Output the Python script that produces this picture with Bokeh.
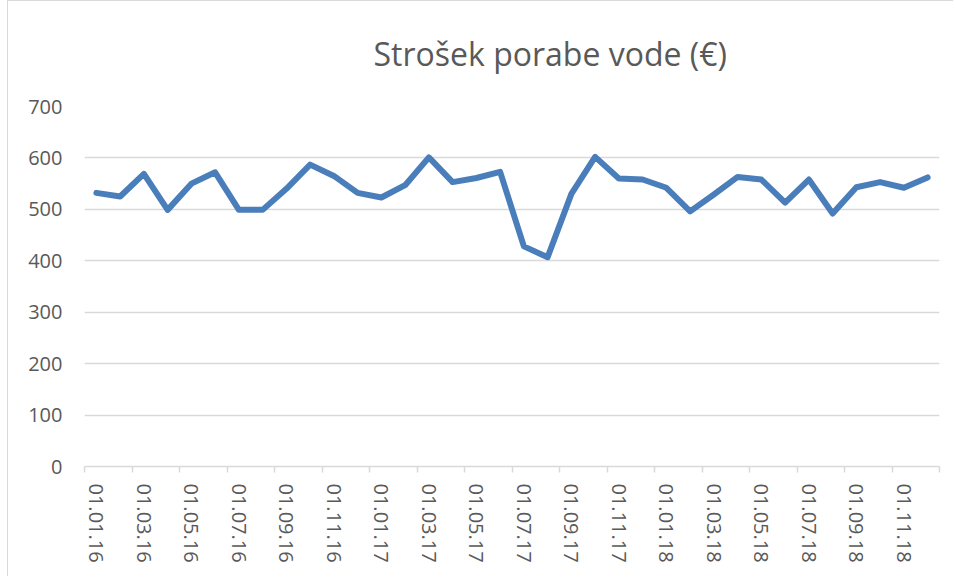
from bokeh.plotting import figure
from bokeh.models import Range1d, FixedTicker, Title
from bokeh.embed import file_html
from bokeh.resources import INLINE

title_text = "Strošek porabe vode (€)"

months = [
    "01.01.16", "01.02.16", "01.03.16", "01.04.16", "01.05.16", "01.06.16",
    "01.07.16", "01.08.16", "01.09.16", "01.10.16", "01.11.16", "01.12.16",
    "01.01.17", "01.02.17", "01.03.17", "01.04.17", "01.05.17", "01.06.17",
    "01.07.17", "01.08.17", "01.09.17", "01.10.17", "01.11.17", "01.12.17",
    "01.01.18", "01.02.18", "01.03.18", "01.04.18", "01.05.18", "01.06.18",
    "01.07.18", "01.08.18", "01.09.18", "01.10.18", "01.11.18", "01.12.18",
]

cost = [
    532, 525, 569, 499, 550, 572, 499, 499, 540, 587, 565, 532,
    523, 547, 601, 553, 561, 573, 428, 407, 530, 602, 560, 558,
    542, 496, 529, 563, 558, 513, 558, 492, 543, 553, 542, 562,
]

y_ticks = [0, 100, 200, 300, 400, 500, 600, 700]

FONT = "Open Sans"
TXT = "#595959"
GRID = "#d9d9d9"

x = list(range(len(months)))
label_pos = x[::2]
boundaries = [i - 0.5 for i in range(0, len(months) + 1, 2)]

p = figure(width=946, height=576, output_backend="svg", toolbar_location=None,
           x_range=Range1d(-0.5, len(months) - 0.5), y_range=Range1d(0, 700),
           min_border_left=76, min_border_right=15, min_border_top=105,
           min_border_bottom=111)
p.styles = {"border-top": "1px solid #d9d9d9", "border-left": "1px solid #d9d9d9",
            "margin-left": "7px"}
p.outline_line_color = None
p.background_fill_color = "white"
p.border_fill_color = "white"

p.line(x, cost, line_color="#4a7ebb", line_width=6, line_join="round", line_cap="round")

# y axis
p.yaxis.ticker = FixedTicker(ticks=y_ticks)
p.yaxis.axis_line_color = None
p.yaxis.major_tick_line_color = None
p.yaxis.minor_tick_line_color = None
p.yaxis.major_label_standoff = 16
p.yaxis.major_label_text_font = FONT
p.yaxis.major_label_text_font_size = "20px"
p.yaxis.major_label_text_color = TXT

# x axis
p.xaxis.ticker = FixedTicker(ticks=label_pos, minor_ticks=boundaries)
p.xaxis.major_label_overrides = {i: months[i] for i in label_pos}
p.xaxis.major_label_orientation = "vertical"
p.xaxis.axis_line_color = GRID
p.xaxis.axis_line_width = 1.5
p.xaxis.major_tick_line_color = None
p.xaxis.major_tick_out = 0
p.xaxis.major_tick_in = 0
p.xaxis.minor_tick_line_color = GRID
p.xaxis.minor_tick_line_width = 1.5
p.xaxis.minor_tick_out = 6
p.xaxis.minor_tick_in = 0
p.xaxis.major_label_standoff = 11
p.xaxis.major_label_text_font = FONT
p.xaxis.major_label_text_font_size = "20px"
p.xaxis.major_label_text_color = TXT

p.xgrid.grid_line_color = None
p.ygrid.ticker = FixedTicker(ticks=y_ticks)
p.ygrid.grid_line_color = GRID
p.ygrid.grid_line_width = 1.5

p.add_layout(Title(text=title_text, align="left", offset=289, standoff=59,
                   vertical_align="top",
                   text_font=FONT, text_font_size="32px", text_color=TXT,
                   text_font_style="normal"), "above")

open("out.html", "w").write(file_html(p, INLINE))
